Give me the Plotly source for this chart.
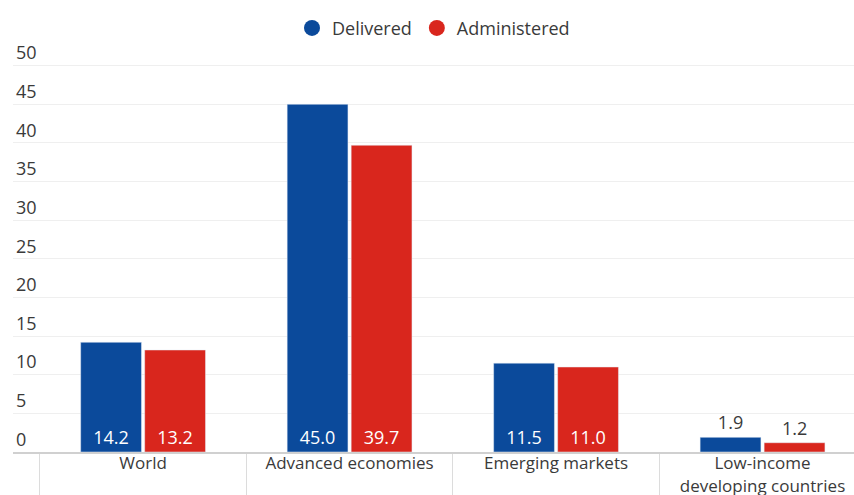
import plotly.graph_objects as go

categories = ["World", "Advanced economies", "Emerging markets", "Low-income<br>developing countries"]
delivered = [14.2, 45.0, 11.5, 1.9]
administered = [13.2, 39.7, 11.0, 1.2]
y_ticks = [0, 5, 10, 15, 20, 25, 30, 35, 40, 45, 50]

BLUE = "#0b4a9b"
RED = "#d9261d"
FONT = "Open Sans"
TEXT_GREY = "#3a3a3a"


def label_positions(values, threshold=5):
    return ["inside" if v >= threshold else "outside" for v in values]


fig = go.Figure()
for name, vals, color in [("Delivered", delivered, BLUE), ("Administered", administered, RED)]:
    fig.add_trace(go.Bar(
        x=categories, y=vals, name=name, marker_color=color,
        text=[f"{v:.1f}" for v in vals],
        textposition=label_positions(vals),
        insidetextanchor="start",
        insidetextfont=dict(color="white", size=18, family=FONT),
        outsidetextfont=dict(color=TEXT_GREY, size=18, family=FONT),
        cliponaxis=False,
        showlegend=False,
    ))
    # round legend markers
    fig.add_trace(go.Scatter(
        x=[None], y=[None], mode="markers", name=name,
        marker=dict(symbol="circle", size=24, color=color),
    ))

# y range runs past 50 so the top tick label has room above its gridline
fig.update_layout(
    width=854, height=495,
    margin=dict(l=13, r=0, t=27, b=43, autoexpand=False),
    paper_bgcolor="white", plot_bgcolor="white",
    barmode="group", bargap=0.38, bargroupgap=0.05,
    font=dict(family=FONT, color=TEXT_GREY, size=18),
    uniformtext=dict(minsize=14, mode="show"),
    legend=dict(
        orientation="h", x=0.5, xanchor="center", y=0.943, yanchor="middle",
        yref="container", font=dict(size=18, family=FONT, color=TEXT_GREY),
    ),
)

fig.update_xaxes(
    range=[-0.630, 3.443], automargin=False,
    tickson="boundaries", ticks="outside", ticklen=44, tickcolor="#dcdcdc", tickwidth=1,
    showline=True, linecolor="#d0d0d0", linewidth=2,
    showgrid=False, ticklabelstandoff=-5,
    tickfont=dict(size=17, family=FONT, color=TEXT_GREY),
)
fig.update_yaxes(
    range=[0, 55], tickvals=y_ticks, ticktext=[str(t) for t in y_ticks],
    ticklabelposition="inside top", ticklabelstandoff=0, automargin=False,
    showgrid=True, gridcolor="#efefef", gridwidth=1,
    zeroline=False,
    tickfont=dict(size=18, family=FONT, color=TEXT_GREY),
)

fig.write_html("out.html")
